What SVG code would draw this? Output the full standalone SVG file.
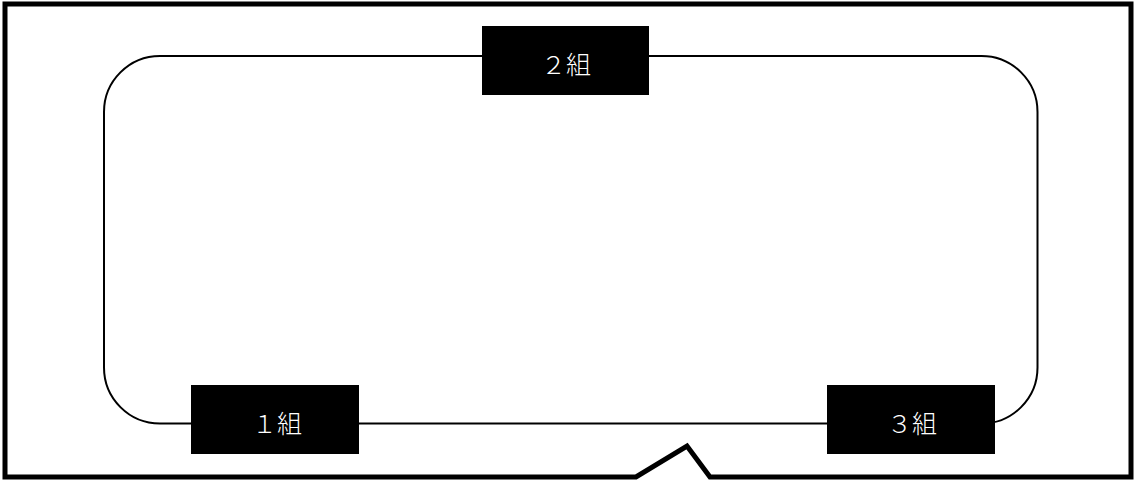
<svg xmlns="http://www.w3.org/2000/svg" width="1136" height="480" viewBox="0 0 1136 480">
<style>
.frame{fill:#fff;stroke:#000;stroke-width:5;stroke-linejoin:miter}
.track{fill:none;stroke:#000;stroke-width:2}
.box{fill:#000}
.lbl{fill:#fff;font-family:"Noto Sans CJK JP","Noto Sans CJK SC",sans-serif;font-size:25px;font-weight:300;text-anchor:middle}
</style>
<rect width="1136" height="480" fill="#fff"/>
<g id="frame">
<path class="frame" d="M5,4 H1131 V477 H710 L687,446 L636,477 H5 Z"/>
</g>
<g id="connectors">
<rect class="track" x="104" y="56" width="933.5" height="367.5" rx="56" ry="56"/>
</g>
<g id="node-2">
<rect class="box" x="482" y="26" width="167" height="69"/>
<text class="lbl" x="566" y="74">２組</text>
</g>
<g id="node-1">
<rect class="box" x="191" y="385" width="168" height="69"/>
<text class="lbl" x="277" y="433">１組</text>
</g>
<g id="node-3">
<rect class="box" x="827" y="385" width="168" height="69"/>
<text class="lbl" x="912" y="433">３組</text>
</g>
</svg>
